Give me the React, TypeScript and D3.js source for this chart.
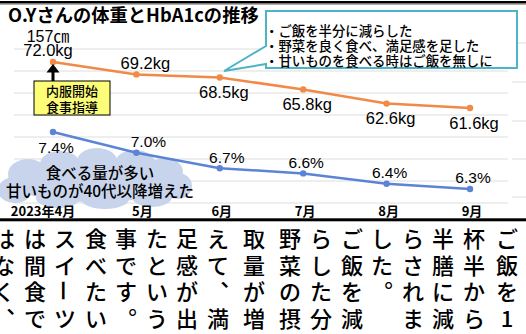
import React from "react";
import * as d3 from "d3";

const months = ["2023年4月", "5月", "6月", "7月", "8月", "9月"];
const weight = [72.0, 69.2, 68.5, 65.8, 62.6, 61.6];
const hba1c = [7.4, 7.0, 6.7, 6.6, 6.4, 6.3];
const weightPlace = ["above", "above", "below", "below", "below", "below"];
const hbPlace = ["below", "above", "above", "above", "above", "above"];
const heightLabel = "157㎝";
const title = "O.Yさんの体重とHbA1cの推移";
const noteLines = [
  "・ご飯を半分に減らした",
  "・野菜を良く食べ、満足感を足した",
  "・甘いものを食べる時はご飯を無しに",
];
const startLabel = ["内服開始", "食事指導"];
const cloudLines = ["食べる量が多い", "甘いものが40代以降増えた"];
const storyColumns = [
  "はなく、", "は間食で", "スイーツ", "食べたい", "事です。", "たという",
  "足感が出", "えて、満", "取量が増", "野菜の摂", "らした分", "ご飯を減",
  "した。 ", "らされま", "半膳に減", "杯半から", "ご飯を1",
];
const storyX = [4, 35, 65, 96, 126, 157, 187, 218, 254, 290, 321, 352, 382, 413, 443, 474, 507];

const W = 526;
const H = 334;
const LATIN = "'Liberation Sans', 'Noto Sans CJK JP', sans-serif";
const CJK = "'Noto Sans CJK JP', 'Liberation Sans', sans-serif";
const ORANGE = "#f08a46";
const BLUE = "#5b84d6";
const TEAL = "#4cb4c4";

export default function App() {
  const x = d3.scalePoint<string>().domain(months).range([53, 470]);
  const yW = d3.scaleLinear().domain([55, 80]).range([137.2, 26.6]);
  const yH = d3.scaleLinear().domain([6, 8]).range([204.5, 100.9]);
  const grid = d3.range(49, 204, 22);
  const sideGrid = [43, 82, 121, 159, 197];

  const wLine = d3.line<number>().x((_, i) => x(months[i])!).y((d) => yW(d));
  const hLine = d3.line<number>().x((_, i) => x(months[i])!).y((d) => yH(d));

  const rowY = (r: number) => 237 + r * 26.7;

  const cloudBlobs: [number, number, number, number][] = [
    [95, 181, 88, 21],
    [28, 174, 20, 15],
    [60, 164, 20, 13],
    [97, 161, 20, 13],
    [135, 163, 20, 13],
    [165, 172, 18, 14],
    [178, 186, 14, 13],
    [152, 197, 20, 10],
    [105, 199, 24, 10],
    [58, 198, 22, 10],
    [15, 190, 17, 13],
  ];

  return (
    <svg
      width={W}
      height={H}
      viewBox={`0 0 ${W} ${H}`}
      style={{ position: "fixed", left: 0, top: 0, background: "#fff", display: "block" }}
    >
      <rect x={0} y={0} width={W} height={H} fill="#fff" />
      {/* top rule */}
      <rect x={0} y={1} width={W} height={2.6} fill="#000" />
      <rect x={0} y={3.6} width={W} height={1.2} fill="#9a9a9a" />

      {/* gridlines */}
      {grid.map((g) => (
        <line key={g} x1={14} x2={508} y1={g} y2={g} stroke="#e8e8e8" strokeWidth={1.5} />
      ))}
      {sideGrid.map((g) => (
        <line key={"s" + g} x1={512} x2={W} y1={g} y2={g} stroke="#e8e8e8" strokeWidth={1.5} />
      ))}

      {/* title */}
      <text x={8} y={22} fontFamily={CJK} fontWeight={700} fontSize={18.3} fill="#000">
        {title}
      </text>

      {/* cloud */}
      <g fill="#c8d4eb">
        {cloudBlobs.map((b, i) => (
          <ellipse key={i} cx={b[0]} cy={b[1]} rx={b[2]} ry={b[3]} />
        ))}
      </g>
      {cloudLines.map((t, i) => (
        <text
          key={t}
          x={100}
          y={i === 0 ? 172 : 190}
          textAnchor="middle"
          dominantBaseline="central"
          fontFamily={CJK}
          fontWeight={500}
          fontSize={15.5}
          fill="#000"
        >
          {t}
        </text>
      ))}

      {/* callout */}
      <path
        d="M266,11 H517 V68 H266 V64 L224,71 L266,46 Z"
        fill="#fff"
        stroke={TEAL}
        strokeWidth={2}
        strokeLinejoin="miter"
      />
      {noteLines.map((t, i) => (
        <text key={t} x={265} y={30 + i * 15.2} dominantBaseline="central" fontFamily={CJK} fontSize={13.4} fontWeight={500} fill="#000">
          {t}
        </text>
      ))}

      {/* lines */}
      <path d={wLine(weight) || ""} fill="none" stroke={ORANGE} strokeWidth={2.5} />
      {weight.map((d, i) => (
        <circle key={"w" + i} cx={x(months[i])} cy={yW(d)} r={3.2} fill={ORANGE} />
      ))}
      <path d={hLine(hba1c) || ""} fill="none" stroke={BLUE} strokeWidth={2.5} />
      {hba1c.map((d, i) => (
        <circle key={"h" + i} cx={x(months[i])} cy={yH(d)} r={3.2} fill={BLUE} />
      ))}

      {/* weight labels */}
      <text x={x(months[0])! - 5} y={36} textAnchor="middle" dominantBaseline="central" fontFamily={LATIN} fontSize={16} fill="#000">
        {heightLabel}
      </text>
      {weight.map((d, i) => (
        <text
          key={"wl" + i}
          x={x(months[i])! + (i === 0 ? -5 : i === 1 ? 9 : 4)}
          y={yW(d) + (weightPlace[i] === "above" ? -11.5 : 14.5)}
          textAnchor="middle"
          dominantBaseline="central"
          fontFamily={LATIN}
          fontSize={16.5}
          fill="#000"
        >
          {d.toFixed(1)}kg
        </text>
      ))}
      {hba1c.map((d, i) => (
        <text
          key={"hl" + i}
          x={x(months[i])! + (i === 1 ? 12 : i === 2 ? 7 : 3)}
          y={yH(d) + (hbPlace[i] === "above" ? -11 : 16)}
          textAnchor="middle"
          dominantBaseline="central"
          fontFamily={LATIN}
          fontSize={15.5}
          fill="#000"
        >
          {d.toFixed(1)}%
        </text>
      ))}

      {/* start annotation */}
      <rect x={51.5} y={70} width={3} height={11} fill="#000" />
      <path d={`M46.5,72.5 L59.5,72.5 L53,64 Z`} fill="#000" />
      <rect x={34} y={81} width={76} height={34} fill="#fdfd78" stroke="#000" strokeWidth={1} />
      {startLabel.map((t, i) => (
        <text
          key={t}
          x={72}
          y={90.5 + i * 16}
          textAnchor="middle"
          dominantBaseline="central"
          fontFamily={CJK}
          fontWeight={500}
          fontSize={13}
          fill="#000"
        >
          {t}
        </text>
      ))}

      {/* x axis labels */}
      {months.map((m, i) => (
        <text
          key={m}
          x={x(m)! + (i === 0 ? -10 : i === 1 ? 6 : 2)}
          y={210}
          textAnchor="middle"
          dominantBaseline="central"
          fontFamily={CJK}
          fontWeight={700}
          fontSize={13}
          fill="#000"
        >
          {m}
        </text>
      ))}

      {/* bottom rule */}
      <rect x={0} y={218.3} width={W} height={3} fill="#000" />

      {/* vertical story text */}
      {storyColumns.map((col, ci) =>
        Array.from(col).map((ch, ri) => {
          const cx = storyX[ci];
          const cy = rowY(ri);
          if (ch === " ") return null;
          let glyph = ch;
          let transform: string | undefined;
          if (ch === "、") glyph = "︑";
          if (ch === "。") glyph = "︒";
          if (ch === "ー") transform = `rotate(90 ${cx} ${cy})`;
          return (
            <text
              key={ci + "-" + ri}
              x={cx}
              y={cy}
              textAnchor="middle"
              dominantBaseline="central"
              fontFamily={CJK}
              fontWeight={500}
              fontSize={22}
              fill="#000"
              transform={transform}
            >
              {glyph}
            </text>
          );
        })
      )}
    </svg>
  );
}
